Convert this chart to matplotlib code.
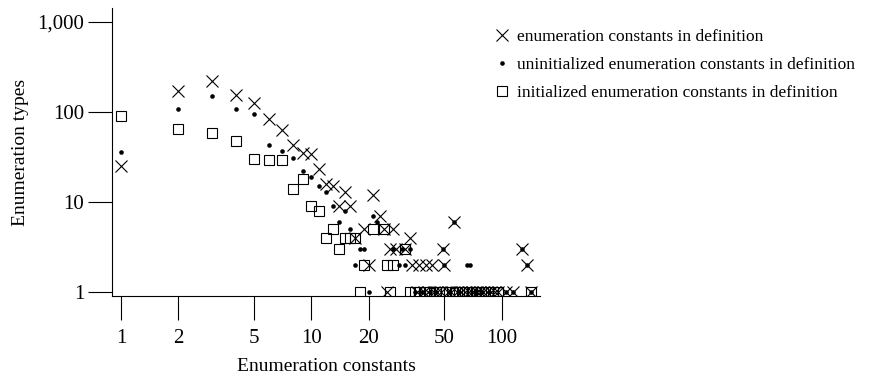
import matplotlib.pyplot as plt
from matplotlib.ticker import FixedLocator, FuncFormatter, NullLocator

# enumeration constants in definition (x markers)
all_n = [1, 2, 3, 4, 5, 6, 7, 8, 9, 10, 11, 12, 13, 14, 15, 16, 17, 19, 20, 21, 23, 24, 25, 26, 27, 28,
         31, 33, 34, 36, 37, 39, 40, 41, 43, 44, 46, 48, 49, 50, 52, 54, 56, 58, 61, 64, 67, 70, 74, 77,
         80, 84, 88, 92, 96, 106, 115, 128, 136, 143]
all_count = [25, 171, 221, 154, 125, 83, 63, 43, 35, 34, 23, 16, 15, 9, 13, 9, 4, 5, 2, 12, 7, 5, 1, 3, 5, 3,
             3, 4, 2, 1, 2, 1, 2, 1, 2, 1, 1, 1, 3, 2, 1, 1, 6, 1, 1, 1, 1, 1, 1, 1,
             1, 1, 1, 1, 1, 1, 1, 3, 2, 1]

# uninitialized enumeration constants (dots)
uninit_n = [1, 2, 3, 4, 5, 6, 7, 8, 9, 10, 11, 12, 13, 14, 15, 16, 17, 18, 19, 20, 21, 22, 27, 29, 30,
            31, 33, 35, 38, 42, 45, 49, 50, 53, 56, 60, 66, 68, 72, 79, 86, 106, 115, 128, 136, 143]
uninit_count = [36, 107, 151, 108, 95, 43, 37, 31, 22, 19, 15, 13, 9, 6, 8, 5, 2, 3, 3, 1, 7, 6, 3, 2, 3,
                2, 3, 1, 1, 1, 1, 3, 2, 1, 6, 1, 2, 2, 1, 1, 1, 1, 1, 3, 2, 1]

# initialized enumeration constants (squares)
init_n = [1, 2, 3, 4, 5, 6, 7, 8, 9, 10, 11, 12, 13, 14, 15, 16, 17, 18, 19, 21, 24, 25, 26, 27, 31,
          33, 35, 37, 39, 42, 45, 47, 51, 55, 57, 60, 63, 66, 70, 73, 78, 82, 90, 96, 143]
init_count = [90, 64, 58, 47, 30, 29, 29, 14, 18, 9, 8, 4, 5, 3, 4, 4, 4, 1, 2, 5, 5, 2, 1, 2, 3,
              1, 1, 1, 1, 1, 1, 1, 1, 1, 1, 1, 1, 1, 1, 1, 1, 1, 1, 1, 1]

x_ticks = [1, 2, 5, 10, 20, 50, 100]
y_ticks = [1, 10, 100, 1000]

plt.rcParams['font.family'] = ['Liberation Serif', 'DejaVu Serif']

W, H = 879, 383
fig = plt.figure(figsize=(W / 100, H / 100), dpi=100)
ax = fig.add_axes([112 / W, (H - 296) / H, (540 - 112) / W, (296 - 8) / H])

ax.plot(all_n, all_count, 'x', color='black', markersize=8.5, markeredgewidth=0.8,
        label='enumeration constants in definition')
ax.plot(uninit_n, uninit_count, 'o', color='black', markersize=3.3, markeredgewidth=0,
        label='uninitialized enumeration constants in definition')
ax.plot(init_n, init_count, 's', color='black', markerfacecolor='none', markersize=7,
        markeredgewidth=0.8, label='initialized enumeration constants in definition')

ax.set_xscale('log')
ax.set_yscale('log')
ax.set_xlim(0.897, 159)
ax.set_ylim(0.903, 1419)

ax.xaxis.set_major_locator(FixedLocator(x_ticks))
ax.yaxis.set_major_locator(FixedLocator(y_ticks))
ax.xaxis.set_minor_locator(NullLocator())
ax.yaxis.set_minor_locator(NullLocator())
ax.xaxis.set_major_formatter(FuncFormatter(lambda v, p: '{:,.0f}'.format(v)))
ax.yaxis.set_major_formatter(FuncFormatter(lambda v, p: '{:,.0f}'.format(v)))

ax.spines['top'].set_visible(False)
ax.spines['right'].set_visible(False)
for s in ['left', 'bottom']:
    ax.spines[s].set_linewidth(0.8)
ax.tick_params(axis='both', direction='out', length=17, width=0.8, labelsize=15)
ax.tick_params(axis='x', pad=7)
ax.tick_params(axis='y', pad=3)

ax.set_xlabel('Enumeration constants', fontsize=14, labelpad=7)
ax.set_ylabel('Enumeration types', fontsize=14, labelpad=6)

fig.legend(loc='upper left', bbox_to_anchor=(493 / W, 1 - 29 / H), frameon=False,
           fontsize=12.5, handlelength=1.0, handletextpad=0.36, labelspacing=0.68,
           borderpad=0, borderaxespad=0)

fig.savefig('out.png', dpi=100)
